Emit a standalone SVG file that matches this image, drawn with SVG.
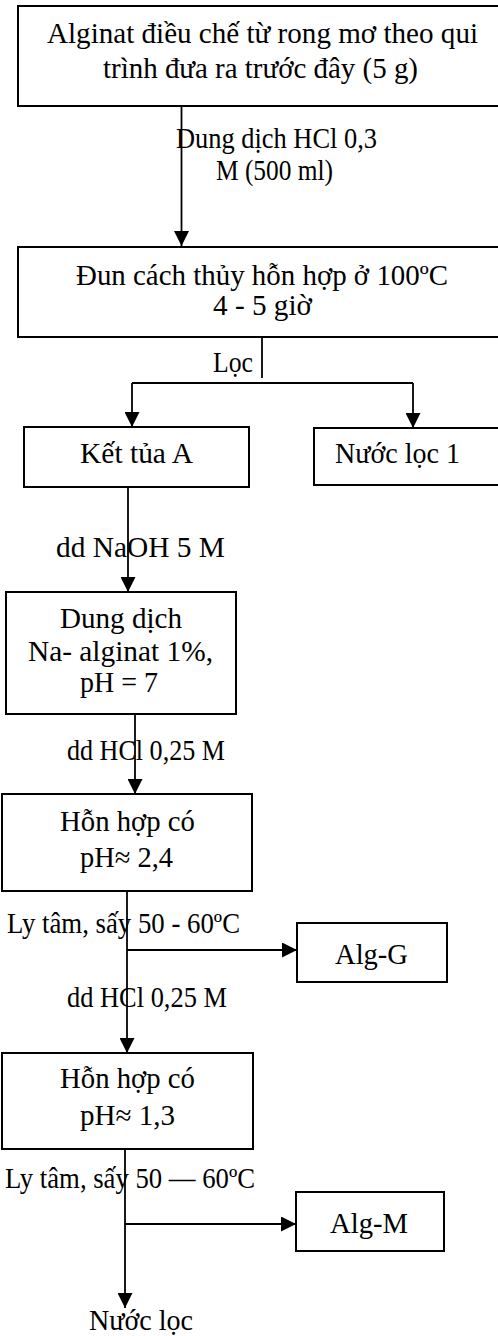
<svg xmlns="http://www.w3.org/2000/svg" width="498" height="1336" viewBox="0 0 498 1336">
<style>
.box{fill:#fff;stroke:#000;stroke-width:2}
.t{font-family:"Liberation Serif","Times New Roman",serif;font-size:29px;fill:#000;text-anchor:start}
.ln{stroke:#000;stroke-width:1.8;fill:none}
</style>
<defs>
<marker id="ah" markerUnits="userSpaceOnUse" markerWidth="15" markerHeight="15" refX="15" refY="7.5" orient="auto">
<path d="M0,0 L15,7.5 L0,15 z" fill="#000"/>
</marker>
</defs>
<g id="connectors">
<line class="ln" x1="181.5" y1="106" x2="181.5" y2="246" marker-end="url(#ah)"/>
<line class="ln" x1="262" y1="337" x2="262" y2="378"/>
<line class="ln" x1="132" y1="383" x2="413" y2="383"/>
<line class="ln" x1="132" y1="383" x2="132" y2="427" marker-end="url(#ah)"/>
<line class="ln" x1="413" y1="383" x2="413" y2="428" marker-end="url(#ah)"/>
<line class="ln" x1="128" y1="487" x2="128" y2="592" marker-end="url(#ah)"/>
<line class="ln" x1="135" y1="715" x2="135" y2="794" marker-end="url(#ah)"/>
<line class="ln" x1="127" y1="891" x2="127" y2="1053" marker-end="url(#ah)"/>
<line class="ln" x1="127" y1="950" x2="297" y2="950" marker-end="url(#ah)"/>
<line class="ln" x1="125" y1="1149" x2="125" y2="1308" marker-end="url(#ah)"/>
<line class="ln" x1="125" y1="1224" x2="296" y2="1224" marker-end="url(#ah)"/>
<text class="t" x="176" y="148" textLength="201" lengthAdjust="spacingAndGlyphs">Dung dịch HCl 0,3</text>
<text class="t" x="216" y="180" textLength="117" lengthAdjust="spacingAndGlyphs">M (500 ml)</text>
<text class="t" x="213" y="372" textLength="40" lengthAdjust="spacingAndGlyphs">Lọc</text>
<text class="t" x="56" y="557" textLength="169" lengthAdjust="spacingAndGlyphs">dd NaOH 5 M</text>
<text class="t" x="67" y="760" textLength="158" lengthAdjust="spacingAndGlyphs">dd HCl 0,25 M</text>
<text class="t" x="7" y="933" textLength="233" lengthAdjust="spacingAndGlyphs">Ly tâm, sấy 50 - 60ºC</text>
<text class="t" x="67" y="1007" textLength="160" lengthAdjust="spacingAndGlyphs">dd HCl 0,25 M</text>
<text class="t" x="5" y="1188" textLength="250" lengthAdjust="spacingAndGlyphs">Ly tâm, sấy 50 — 60ºC</text>
</g>
<g id="n1">
<rect class="box" x="18" y="6" width="490" height="100"/>
<text class="t" x="47" y="43" textLength="431" lengthAdjust="spacingAndGlyphs">Alginat điều chế từ rong mơ theo qui</text>
<text class="t" x="103" y="78" textLength="315" lengthAdjust="spacingAndGlyphs">trình đưa ra trước đây (5 g)</text>
</g>
<g id="n2">
<rect class="box" x="18" y="247" width="490" height="90"/>
<text class="t" x="76" y="285" textLength="372" lengthAdjust="spacingAndGlyphs">Đun cách thủy hỗn hợp ở 100ºC</text>
<text class="t" x="213" y="315" textLength="99" lengthAdjust="spacingAndGlyphs">4 - 5 giờ</text>
</g>
<g id="n3">
<rect class="box" x="24" y="427" width="225" height="60"/>
<text class="t" x="80" y="463" textLength="113" lengthAdjust="spacingAndGlyphs">Kết tủa A</text>
</g>
<g id="n4">
<rect class="box" x="314" y="428" width="200" height="57"/>
<text class="t" x="335" y="463" textLength="125" lengthAdjust="spacingAndGlyphs">Nước lọc 1</text>
</g>
<g id="n5">
<rect class="box" x="6" y="592" width="230" height="122"/>
<text class="t" x="60" y="628" textLength="122" lengthAdjust="spacingAndGlyphs">Dung dịch</text>
<text class="t" x="28" y="661" textLength="185" lengthAdjust="spacingAndGlyphs">Na- alginat 1%,</text>
<text class="t" x="80" y="692" textLength="78" lengthAdjust="spacingAndGlyphs">pH = 7</text>
</g>
<g id="n6">
<rect class="box" x="2" y="794" width="250" height="97"/>
<text class="t" x="60" y="831" textLength="135" lengthAdjust="spacingAndGlyphs">Hỗn hợp có</text>
<text class="t" x="80" y="867" textLength="93" lengthAdjust="spacingAndGlyphs">pH≈ 2,4</text>
</g>
<g id="n7">
<rect class="box" x="297" y="923" width="150" height="59"/>
<text class="t" x="335" y="964" textLength="73" lengthAdjust="spacingAndGlyphs">Alg-G</text>
</g>
<g id="n8">
<rect class="box" x="2" y="1053" width="251" height="96"/>
<text class="t" x="60" y="1088" textLength="135" lengthAdjust="spacingAndGlyphs">Hỗn hợp có</text>
<text class="t" x="80" y="1125" textLength="95" lengthAdjust="spacingAndGlyphs">pH≈ 1,3</text>
</g>
<g id="n9">
<rect class="box" x="296" y="1192" width="148" height="59"/>
<text class="t" x="330" y="1233" textLength="78" lengthAdjust="spacingAndGlyphs">Alg-M</text>
</g>
<g id="n10">
<text class="t" x="89" y="1330" textLength="104" lengthAdjust="spacingAndGlyphs">Nước lọc</text>
</g>
</svg>
